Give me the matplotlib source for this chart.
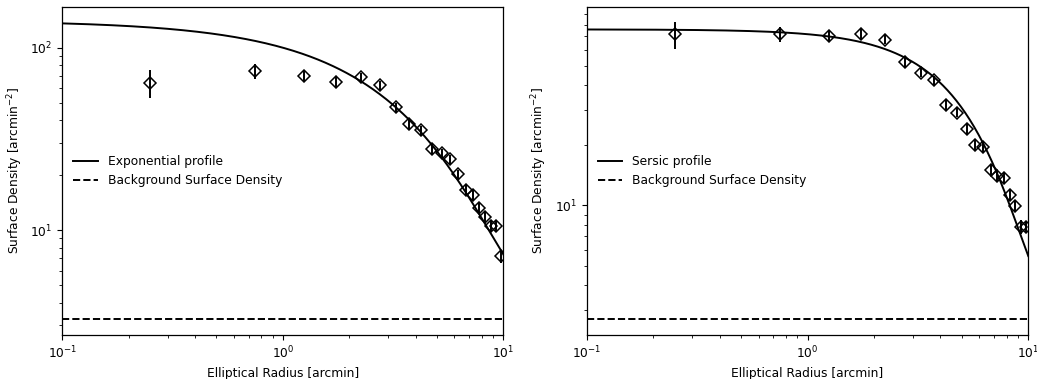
import numpy as np
import matplotlib
matplotlib.use("Agg")
import matplotlib.pyplot as plt

plt.rcParams["font.size"] = 8.8

# Binned surface density profiles (bin centres in arcmin)
radius = [0.25, 0.75, 1.25, 1.75, 2.25, 2.75, 3.25, 3.75, 4.25, 4.75,
          5.25, 5.75, 6.25, 6.75, 7.25, 7.75, 8.25, 8.75, 9.25, 9.75]

density_exp = [64.3, 74.5, 69.8, 65.3, 69.0, 62.3, 47.1, 38.1, 35.3, 28.0,
               26.5, 24.5, 20.2, 16.6, 15.5, 13.2, 11.8, 10.6, 10.6, 7.2]
error_exp = [11.0, 6.8, 5.1, 4.2, 3.8, 3.3, 2.6, 2.2, 2.0, 1.7,
             1.5, 1.4, 1.2, 1.1, 1.0, 0.9, 0.8, 0.75, 0.73, 0.59]

density_ser = [71.6, 71.6, 70.2, 72.1, 67.3, 51.8, 46.0, 42.3, 31.9, 29.1,
               24.2, 20.0, 19.6, 15.0, 14.0, 13.7, 11.3, 9.95, 7.82, 7.82]
error_ser = [11.0, 6.3, 4.9, 4.2, 3.5, 2.8, 2.4, 2.2, 1.8, 1.6,
             1.4, 1.2, 1.15, 0.97, 0.9, 0.86, 0.76, 0.69, 0.6, 0.58]

# Best-fit model parameters
exp_central, exp_scale, exp_bg = 137.6, 2.85, 3.24
ser_central, ser_scale, ser_n, ser_bg = 73.1, 5.12, 0.571, 2.69

r_model = np.logspace(-1, 1, 400)
exp_model = exp_central * np.exp(-r_model / exp_scale) + exp_bg
ser_model = ser_central * np.exp(-(r_model / ser_scale) ** (1.0 / ser_n)) + ser_bg

fig = plt.figure(figsize=(10.37, 3.79), dpi=100)
ax1 = fig.add_axes([0.0601, 0.1161, 0.4253, 0.8662])
ax2 = fig.add_axes([0.5658, 0.1161, 0.4258, 0.8662])

panels = [
    (ax1, density_exp, error_exp, exp_model, exp_bg, "Exponential profile", (2.66, 168)),
    (ax2, density_ser, error_ser, ser_model, ser_bg, "Sersic profile", (2.25, 98.4)),
]

for ax, dens, err, model, bg, label, ylim in panels:
    ax.errorbar(radius, dens, yerr=err, fmt="D", mfc="none", mec="black",
                ecolor="black", ms=6.3, mew=1.1, elinewidth=1.4, capsize=0)
    ax.plot(r_model, model, color="black", lw=1.4, label=label)
    ax.axhline(bg, color="black", ls="--", lw=1.4,
               label="Background Surface Density")
    ax.set_xscale("log")
    ax.set_yscale("log")
    ax.set_xlim(0.1, 10)
    ax.set_ylim(*ylim)
    ax.set_xlabel("Elliptical Radius [arcmin]")
    ax.set_ylabel("Surface Density [arcmin$^{-2}$]")
    ax.legend(loc="center left", frameon=False)
    for spine in ax.spines.values():
        spine.set_linewidth(0.9)

fig.savefig("out.png", dpi=100)
